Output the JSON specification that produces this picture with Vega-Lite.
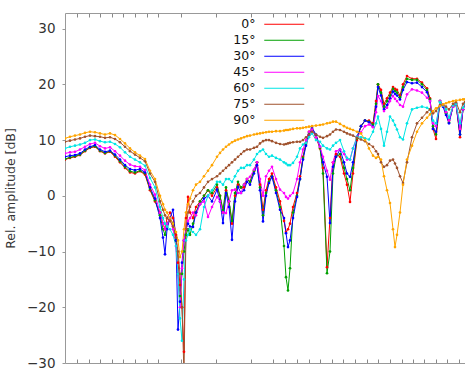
{
"$schema": "https://vega.github.io/schema/vega-lite/v6.json",
"width": 400, "height": 350,
"autosize": {"type": "none"},
"padding": {"left": 65, "top": 13, "right": 0, "bottom": 7},
"config": {"view": {"stroke": null}, "font": "DejaVu Sans"},
"data": {"values": [
{"s":"0°","x":0,"y":6.5},{"s":"0°","x":5,"y":6.8},{"s":"0°","x":10,"y":7.0},{"s":"0°","x":15,"y":7.3},{"s":"0°","x":20,"y":8.0},{"s":"0°","x":25,"y":8.6},{"s":"0°","x":30,"y":8.8},{"s":"0°","x":35,"y":8.0},{"s":"0°","x":40,"y":7.6},{"s":"0°","x":45,"y":7.9},{"s":"0°","x":50,"y":7.0},{"s":"0°","x":55,"y":6.0},{"s":"0°","x":60,"y":5.0},{"s":"0°","x":65,"y":4.2},{"s":"0°","x":70,"y":4.0},{"s":"0°","x":75,"y":4.4},{"s":"0°","x":80,"y":3.8},{"s":"0°","x":85,"y":1.0},{"s":"0°","x":90,"y":-1.0},
{"s":"0°","x":95,"y":-3},{"s":"0°","x":98,"y":-5},{"s":"0°","x":100,"y":-6},{"s":"0°","x":102,"y":-4},{"s":"0°","x":105,"y":-3},{"s":"0°","x":108,"y":-4},{"s":"0°","x":111,"y":-7},{"s":"0°","x":113,"y":-12},{"s":"0°","x":115,"y":-16},{"s":"0°","x":117,"y":-20},{"s":"0°","x":119,"y":-28},{"s":"0°","x":121,"y":-4},{"s":"0°","x":123,"y":-0.2},{"s":"0°","x":125,"y":-3},{"s":"0°","x":128,"y":-4},{"s":"0°","x":131,"y":-2},{"s":"0°","x":135,"y":-1},
{"s":"0°","x":139,"y":0},{"s":"0°","x":143,"y":1},{"s":"0°","x":147,"y":0},{"s":"0°","x":152,"y":1.5},{"s":"0°","x":155,"y":0},{"s":"0°","x":158,"y":-3},{"s":"0°","x":161,"y":1},{"s":"0°","x":164,"y":-1},{"s":"0°","x":167,"y":-5},{"s":"0°","x":170,"y":0},{"s":"0°","x":173,"y":2},{"s":"0°","x":176,"y":1.5},{"s":"0°","x":179,"y":1.5},{"s":"0°","x":182,"y":3},{"s":"0°","x":185,"y":2.5},
{"s":"0°","x":189,"y":4.5},{"s":"0°","x":192,"y":6},{"s":"0°","x":195,"y":2},{"s":"0°","x":198,"y":-2.5},{"s":"0°","x":201,"y":1},{"s":"0°","x":204,"y":3},{"s":"0°","x":207,"y":4},{"s":"0°","x":211,"y":1.5},{"s":"0°","x":215,"y":-1},{"s":"0°","x":219,"y":-4.5},{"s":"0°","x":221,"y":-6.5},{"s":"0°","x":223,"y":-6},{"s":"0°","x":225,"y":-5},{"s":"0°","x":228,"y":-2},{"s":"0°","x":232,"y":0.5},{"s":"0°","x":235,"y":3.5},{"s":"0°","x":238,"y":7},{"s":"0°","x":241,"y":9.5},{"s":"0°","x":244,"y":11.5},{"s":"0°","x":247,"y":12},{"s":"0°","x":251,"y":10.5},{"s":"0°","x":255,"y":8.5},{"s":"0°","x":258,"y":5},{"s":"0°","x":262,"y":-12.8},{"s":"0°","x":265,"y":-4},{"s":"0°","x":268,"y":6},{"s":"0°","x":271,"y":7.5},{"s":"0°","x":275,"y":7},{"s":"0°","x":279,"y":4},{"s":"0°","x":282,"y":2},{"s":"0°","x":285,"y":-1.1},{"s":"0°","x":288,"y":4},{"s":"0°","x":292,"y":10},{"s":"0°","x":296,"y":12.5},{"s":"0°","x":300,"y":13.5},{"s":"0°","x":304,"y":13.5},{"s":"0°","x":308,"y":13},{"s":"0°","x":311,"y":17},{"s":"0°","x":313,"y":20},{"s":"0°","x":316,"y":19},{"s":"0°","x":319,"y":16.5},
{"s":"0°","x":322,"y":17.5},{"s":"0°","x":325,"y":18.5},{"s":"0°","x":328,"y":19.5},{"s":"0°","x":330,"y":19.2},{"s":"0°","x":332,"y":19},{"s":"0°","x":335,"y":18},{"s":"0°","x":338,"y":20},{"s":"0°","x":342,"y":21.5},{"s":"0°","x":347,"y":21},{"s":"0°","x":352,"y":21},{"s":"0°","x":357,"y":20.3},{"s":"0°","x":362,"y":19.3},{"s":"0°","x":365,"y":17.5},{"s":"0°","x":368,"y":12},{"s":"0°","x":371,"y":10.2},{"s":"0°","x":375,"y":17},{"s":"0°","x":378,"y":16.3},{"s":"0°","x":381,"y":15},{"s":"0°","x":384,"y":13.5},{"s":"0°","x":388,"y":16},{"s":"0°","x":391,"y":16.5},{"s":"0°","x":395,"y":10.5},{"s":"0°","x":398,"y":15.5},{"s":"0°","x":400,"y":16.5},
{"s":"15°","x":0,"y":6.6},{"s":"15°","x":5,"y":6.9},{"s":"15°","x":10,"y":7.1},{"s":"15°","x":15,"y":7.4},{"s":"15°","x":20,"y":8.1},{"s":"15°","x":25,"y":8.7},{"s":"15°","x":30,"y":8.9},{"s":"15°","x":35,"y":8.1},{"s":"15°","x":40,"y":7.7},{"s":"15°","x":45,"y":8.0},{"s":"15°","x":50,"y":7.2},{"s":"15°","x":55,"y":6.2},{"s":"15°","x":60,"y":5.2},{"s":"15°","x":65,"y":4.4},{"s":"15°","x":70,"y":4.2},{"s":"15°","x":75,"y":4.5},{"s":"15°","x":80,"y":4.0},{"s":"15°","x":85,"y":1.2},{"s":"15°","x":90,"y":-0.8},
{"s":"15°","x":95,"y":-3.5},{"s":"15°","x":98,"y":-6},{"s":"15°","x":100,"y":-7},{"s":"15°","x":102,"y":-5},{"s":"15°","x":105,"y":-4},{"s":"15°","x":108,"y":-5},{"s":"15°","x":111,"y":-8},{"s":"15°","x":113,"y":-14},{"s":"15°","x":115,"y":-18},{"s":"15°","x":117,"y":-14},{"s":"15°","x":119,"y":-10},{"s":"15°","x":121,"y":-7},{"s":"15°","x":123,"y":-6},{"s":"15°","x":125,"y":-7},{"s":"15°","x":128,"y":-5},{"s":"15°","x":131,"y":-3},{"s":"15°","x":135,"y":-1},
{"s":"15°","x":139,"y":0},{"s":"15°","x":143,"y":1},{"s":"15°","x":147,"y":0.5},{"s":"15°","x":152,"y":2},{"s":"15°","x":155,"y":0},{"s":"15°","x":158,"y":-2.5},{"s":"15°","x":161,"y":1.5},{"s":"15°","x":164,"y":-1},{"s":"15°","x":167,"y":-4.5},{"s":"15°","x":170,"y":0.5},{"s":"15°","x":173,"y":2.5},{"s":"15°","x":176,"y":1.5},{"s":"15°","x":179,"y":2},{"s":"15°","x":182,"y":3},{"s":"15°","x":185,"y":2.5},
{"s":"15°","x":189,"y":4.5},{"s":"15°","x":192,"y":6},{"s":"15°","x":195,"y":1.5},{"s":"15°","x":198,"y":-3.5},{"s":"15°","x":201,"y":0.5},{"s":"15°","x":204,"y":2.5},{"s":"15°","x":207,"y":3.5},{"s":"15°","x":211,"y":1},{"s":"15°","x":215,"y":-2},{"s":"15°","x":219,"y":-9},{"s":"15°","x":221,"y":-14.6},{"s":"15°","x":223,"y":-17},{"s":"15°","x":225,"y":-13},{"s":"15°","x":228,"y":-3},{"s":"15°","x":232,"y":0},{"s":"15°","x":235,"y":3},{"s":"15°","x":238,"y":6.8},{"s":"15°","x":241,"y":9.3},{"s":"15°","x":244,"y":11.3},{"s":"15°","x":247,"y":12},{"s":"15°","x":251,"y":10.8},{"s":"15°","x":255,"y":8.6},{"s":"15°","x":258,"y":4},{"s":"15°","x":262,"y":-13.9},{"s":"15°","x":265,"y":-10},{"s":"15°","x":268,"y":4},{"s":"15°","x":271,"y":7},{"s":"15°","x":275,"y":7.5},{"s":"15°","x":279,"y":5},{"s":"15°","x":282,"y":3},{"s":"15°","x":285,"y":1},{"s":"15°","x":288,"y":5},{"s":"15°","x":292,"y":10.3},{"s":"15°","x":296,"y":12.5},{"s":"15°","x":300,"y":13.5},{"s":"15°","x":304,"y":13.3},{"s":"15°","x":308,"y":12.8},{"s":"15°","x":311,"y":16.5},{"s":"15°","x":313,"y":20},{"s":"15°","x":316,"y":18.5},{"s":"15°","x":319,"y":16},
{"s":"15°","x":322,"y":17},{"s":"15°","x":325,"y":18},{"s":"15°","x":328,"y":19.2},{"s":"15°","x":330,"y":18.8},{"s":"15°","x":332,"y":18.5},{"s":"15°","x":335,"y":17.7},{"s":"15°","x":338,"y":19.5},{"s":"15°","x":342,"y":21},{"s":"15°","x":347,"y":20.8},{"s":"15°","x":352,"y":20.8},{"s":"15°","x":357,"y":20},{"s":"15°","x":362,"y":19},{"s":"15°","x":365,"y":17.3},{"s":"15°","x":368,"y":12.5},{"s":"15°","x":371,"y":11},{"s":"15°","x":375,"y":17},{"s":"15°","x":378,"y":16.2},{"s":"15°","x":381,"y":14.8},{"s":"15°","x":384,"y":13.2},{"s":"15°","x":388,"y":16},{"s":"15°","x":391,"y":16.5},{"s":"15°","x":395,"y":11},{"s":"15°","x":398,"y":15.5},{"s":"15°","x":400,"y":16.5},
{"s":"30°","x":0,"y":7.0},{"s":"30°","x":5,"y":7.2},{"s":"30°","x":10,"y":7.3},{"s":"30°","x":15,"y":7.6},{"s":"30°","x":20,"y":8.3},{"s":"30°","x":25,"y":8.8},{"s":"30°","x":30,"y":9.1},{"s":"30°","x":35,"y":8.3},{"s":"30°","x":40,"y":7.9},{"s":"30°","x":45,"y":8.1},{"s":"30°","x":50,"y":7.4},{"s":"30°","x":55,"y":6.5},{"s":"30°","x":60,"y":5.5},{"s":"30°","x":65,"y":4.8},{"s":"30°","x":70,"y":4.6},{"s":"30°","x":75,"y":4.8},{"s":"30°","x":80,"y":4.2},{"s":"30°","x":85,"y":1.5},{"s":"30°","x":90,"y":-0.5},
{"s":"30°","x":95,"y":-4},{"s":"30°","x":98,"y":-7.5},{"s":"30°","x":100,"y":-10.5},{"s":"30°","x":102,"y":-6},{"s":"30°","x":105,"y":-4},{"s":"30°","x":108,"y":-2.5},{"s":"30°","x":111,"y":-8},{"s":"30°","x":113,"y":-24},{"s":"30°","x":115,"y":-19},{"s":"30°","x":117,"y":-12},{"s":"30°","x":119,"y":-8},{"s":"30°","x":121,"y":-6},{"s":"30°","x":123,"y":-5},{"s":"30°","x":125,"y":-5.5},{"s":"30°","x":128,"y":-5.6},{"s":"30°","x":131,"y":-3},{"s":"30°","x":135,"y":-1.5},
{"s":"30°","x":139,"y":-0.5},{"s":"30°","x":143,"y":0},{"s":"30°","x":147,"y":-1},{"s":"30°","x":152,"y":1.1},{"s":"30°","x":155,"y":-1},{"s":"30°","x":158,"y":-4.9},{"s":"30°","x":161,"y":0.5},{"s":"30°","x":164,"y":-2},{"s":"30°","x":167,"y":-7.9},{"s":"30°","x":170,"y":-1},{"s":"30°","x":173,"y":1.6},{"s":"30°","x":176,"y":0.5},{"s":"30°","x":179,"y":1},{"s":"30°","x":182,"y":2.5},{"s":"30°","x":185,"y":2},
{"s":"30°","x":189,"y":4},{"s":"30°","x":192,"y":5.5},{"s":"30°","x":195,"y":1},{"s":"30°","x":198,"y":-4.6},{"s":"30°","x":201,"y":0},{"s":"30°","x":204,"y":2.3},{"s":"30°","x":207,"y":3.4},{"s":"30°","x":211,"y":0.5},{"s":"30°","x":215,"y":-2.5},{"s":"30°","x":219,"y":-4},{"s":"30°","x":221,"y":-6.7},{"s":"30°","x":223,"y":-9.2},{"s":"30°","x":225,"y":-8},{"s":"30°","x":228,"y":-4},{"s":"30°","x":232,"y":-0.2},{"s":"30°","x":235,"y":3},{"s":"30°","x":238,"y":6.5},{"s":"30°","x":241,"y":9},{"s":"30°","x":244,"y":11},{"s":"30°","x":247,"y":12.2},{"s":"30°","x":251,"y":11},{"s":"30°","x":255,"y":8.8},{"s":"30°","x":258,"y":6},{"s":"30°","x":262,"y":3.4},{"s":"30°","x":265,"y":-4.9},{"s":"30°","x":268,"y":5.2},{"s":"30°","x":271,"y":7},{"s":"30°","x":275,"y":8.3},{"s":"30°","x":279,"y":6},{"s":"30°","x":282,"y":4},{"s":"30°","x":285,"y":3.4},{"s":"30°","x":288,"y":6},{"s":"30°","x":292,"y":10.6},{"s":"30°","x":296,"y":12.5},{"s":"30°","x":300,"y":13.5},{"s":"30°","x":304,"y":13.2},{"s":"30°","x":308,"y":12.4},{"s":"30°","x":311,"y":16},{"s":"30°","x":313,"y":19.5},{"s":"30°","x":316,"y":18},{"s":"30°","x":319,"y":15.5},
{"s":"30°","x":322,"y":16.3},{"s":"30°","x":325,"y":17.5},{"s":"30°","x":328,"y":18.7},{"s":"30°","x":330,"y":18.3},{"s":"30°","x":332,"y":18},{"s":"30°","x":335,"y":17.3},{"s":"30°","x":338,"y":19},{"s":"30°","x":342,"y":20.4},{"s":"30°","x":347,"y":20.2},{"s":"30°","x":352,"y":20.3},{"s":"30°","x":357,"y":19.5},{"s":"30°","x":362,"y":18.6},{"s":"30°","x":365,"y":17},{"s":"30°","x":368,"y":12},{"s":"30°","x":371,"y":11.5},{"s":"30°","x":375,"y":17},{"s":"30°","x":378,"y":16},{"s":"30°","x":381,"y":14.5},{"s":"30°","x":384,"y":13},{"s":"30°","x":388,"y":16},{"s":"30°","x":391,"y":16.5},{"s":"30°","x":395,"y":11},{"s":"30°","x":398,"y":15.5},{"s":"30°","x":400,"y":16.5},
{"s":"45°","x":0,"y":7.6},{"s":"45°","x":5,"y":7.8},{"s":"45°","x":10,"y":7.9},{"s":"45°","x":15,"y":8.3},{"s":"45°","x":20,"y":8.8},{"s":"45°","x":25,"y":9.3},{"s":"45°","x":30,"y":9.5},{"s":"45°","x":35,"y":8.9},{"s":"45°","x":40,"y":8.5},{"s":"45°","x":45,"y":8.7},{"s":"45°","x":50,"y":8.0},{"s":"45°","x":55,"y":7.2},{"s":"45°","x":60,"y":6.3},{"s":"45°","x":65,"y":5.6},{"s":"45°","x":70,"y":5.3},{"s":"45°","x":75,"y":5.2},{"s":"45°","x":80,"y":4.6},{"s":"45°","x":85,"y":2.0},{"s":"45°","x":90,"y":0.2},
{"s":"45°","x":95,"y":-3},{"s":"45°","x":98,"y":-5},{"s":"45°","x":100,"y":-6},{"s":"45°","x":102,"y":-5},{"s":"45°","x":105,"y":-4},{"s":"45°","x":108,"y":-6},{"s":"45°","x":111,"y":-9},{"s":"45°","x":113,"y":-14},{"s":"45°","x":115,"y":-20},{"s":"45°","x":117,"y":-13},{"s":"45°","x":119,"y":-8},{"s":"45°","x":121,"y":-6},{"s":"45°","x":123,"y":-4.5},{"s":"45°","x":125,"y":-4},{"s":"45°","x":128,"y":-3},{"s":"45°","x":131,"y":-3.5},{"s":"45°","x":135,"y":-1.5},
{"s":"45°","x":139,"y":-1},{"s":"45°","x":143,"y":-3.8},{"s":"45°","x":147,"y":-2},{"s":"45°","x":152,"y":-0.2},{"s":"45°","x":155,"y":-1},{"s":"45°","x":158,"y":-3},{"s":"45°","x":161,"y":-3.1},{"s":"45°","x":164,"y":-1},{"s":"45°","x":167,"y":1},{"s":"45°","x":170,"y":1.1},{"s":"45°","x":173,"y":0.5},{"s":"45°","x":176,"y":0.5},{"s":"45°","x":179,"y":2},{"s":"45°","x":182,"y":3},{"s":"45°","x":185,"y":3.4},
{"s":"45°","x":189,"y":4.7},{"s":"45°","x":192,"y":6},{"s":"45°","x":195,"y":3},{"s":"45°","x":198,"y":0},{"s":"45°","x":201,"y":3.5},{"s":"45°","x":204,"y":4.5},{"s":"45°","x":207,"y":5.2},{"s":"45°","x":211,"y":3},{"s":"45°","x":215,"y":1.1},{"s":"45°","x":219,"y":0.5},{"s":"45°","x":221,"y":-0.2},{"s":"45°","x":223,"y":-0.5},{"s":"45°","x":225,"y":0},{"s":"45°","x":228,"y":0.5},{"s":"45°","x":232,"y":3},{"s":"45°","x":235,"y":6},{"s":"45°","x":238,"y":8.3},{"s":"45°","x":241,"y":10},{"s":"45°","x":244,"y":11.5},{"s":"45°","x":247,"y":11.9},{"s":"45°","x":251,"y":10.5},{"s":"45°","x":255,"y":8.8},{"s":"45°","x":258,"y":7},{"s":"45°","x":262,"y":4.5},{"s":"45°","x":265,"y":2.9},{"s":"45°","x":268,"y":6},{"s":"45°","x":271,"y":8},{"s":"45°","x":275,"y":8.3},{"s":"45°","x":279,"y":7.5},{"s":"45°","x":282,"y":6.5},{"s":"45°","x":285,"y":6.5},{"s":"45°","x":288,"y":8.5},{"s":"45°","x":292,"y":10.6},{"s":"45°","x":296,"y":11.4},{"s":"45°","x":300,"y":12.5},{"s":"45°","x":304,"y":12.8},{"s":"45°","x":308,"y":12.3},{"s":"45°","x":311,"y":15},{"s":"45°","x":313,"y":17.9},{"s":"45°","x":316,"y":17},{"s":"45°","x":319,"y":15.2},
{"s":"45°","x":322,"y":15.8},{"s":"45°","x":325,"y":17},{"s":"45°","x":328,"y":17.9},{"s":"45°","x":330,"y":17.4},{"s":"45°","x":332,"y":17},{"s":"45°","x":335,"y":16.3},{"s":"45°","x":338,"y":16},{"s":"45°","x":342,"y":18.2},{"s":"45°","x":347,"y":19.1},{"s":"45°","x":352,"y":18.9},{"s":"45°","x":357,"y":18.5},{"s":"45°","x":362,"y":17.6},{"s":"45°","x":365,"y":17},{"s":"45°","x":368,"y":13},{"s":"45°","x":371,"y":12.5},{"s":"45°","x":375,"y":17},{"s":"45°","x":378,"y":16.2},{"s":"45°","x":381,"y":15},{"s":"45°","x":384,"y":13.5},{"s":"45°","x":388,"y":16},{"s":"45°","x":391,"y":16.5},{"s":"45°","x":395,"y":12},{"s":"45°","x":398,"y":15.5},{"s":"45°","x":400,"y":16.5},
{"s":"60°","x":0,"y":8.5},{"s":"60°","x":5,"y":8.8},{"s":"60°","x":10,"y":9.0},{"s":"60°","x":15,"y":9.2},{"s":"60°","x":20,"y":9.5},{"s":"60°","x":25,"y":10.0},{"s":"60°","x":30,"y":10.1},{"s":"60°","x":35,"y":9.8},{"s":"60°","x":40,"y":9.6},{"s":"60°","x":45,"y":9.7},{"s":"60°","x":50,"y":9.3},{"s":"60°","x":55,"y":8.7},{"s":"60°","x":60,"y":7.8},{"s":"60°","x":65,"y":7.0},{"s":"60°","x":70,"y":6.5},{"s":"60°","x":75,"y":6.0},{"s":"60°","x":80,"y":5.4},{"s":"60°","x":85,"y":3.2},{"s":"60°","x":90,"y":1.5},
{"s":"60°","x":95,"y":-2},{"s":"60°","x":98,"y":-4},{"s":"60°","x":100,"y":-5},{"s":"60°","x":102,"y":-5.5},{"s":"60°","x":105,"y":-6},{"s":"60°","x":108,"y":-7},{"s":"60°","x":111,"y":-9},{"s":"60°","x":113,"y":-14},{"s":"60°","x":115,"y":-22},{"s":"60°","x":117,"y":-26},{"s":"60°","x":119,"y":-15},{"s":"60°","x":121,"y":-8},{"s":"60°","x":123,"y":-7},{"s":"60°","x":125,"y":-6},{"s":"60°","x":128,"y":-6.5},{"s":"60°","x":131,"y":-7},{"s":"60°","x":135,"y":-6},
{"s":"60°","x":139,"y":-2},{"s":"60°","x":143,"y":0},{"s":"60°","x":147,"y":1},{"s":"60°","x":152,"y":2.5},{"s":"60°","x":155,"y":2.5},{"s":"60°","x":158,"y":2},{"s":"60°","x":161,"y":3},{"s":"60°","x":164,"y":3},{"s":"60°","x":167,"y":2.5},{"s":"60°","x":170,"y":3.5},{"s":"60°","x":173,"y":4.5},{"s":"60°","x":176,"y":5},{"s":"60°","x":179,"y":5},{"s":"60°","x":182,"y":5.5},{"s":"60°","x":185,"y":5.5},
{"s":"60°","x":189,"y":6.5},{"s":"60°","x":192,"y":7.5},{"s":"60°","x":195,"y":8},{"s":"60°","x":198,"y":8.3},{"s":"60°","x":201,"y":7.5},{"s":"60°","x":204,"y":7},{"s":"60°","x":207,"y":7.2},{"s":"60°","x":211,"y":6.8},{"s":"60°","x":215,"y":6.5},{"s":"60°","x":219,"y":6},{"s":"60°","x":221,"y":5.8},{"s":"60°","x":223,"y":5.5},{"s":"60°","x":225,"y":5.5},{"s":"60°","x":228,"y":5.9},{"s":"60°","x":232,"y":7},{"s":"60°","x":235,"y":8.5},{"s":"60°","x":238,"y":9.2},{"s":"60°","x":241,"y":9.5},{"s":"60°","x":244,"y":10.5},{"s":"60°","x":247,"y":11.2},{"s":"60°","x":251,"y":10},{"s":"60°","x":255,"y":9.7},{"s":"60°","x":258,"y":9},{"s":"60°","x":262,"y":8.5},{"s":"60°","x":265,"y":8.3},{"s":"60°","x":268,"y":9},{"s":"60°","x":271,"y":9.5},{"s":"60°","x":275,"y":10},{"s":"60°","x":279,"y":8},{"s":"60°","x":282,"y":6.8},{"s":"60°","x":285,"y":6.5},{"s":"60°","x":288,"y":8.5},{"s":"60°","x":292,"y":10.6},{"s":"60°","x":296,"y":10.5},{"s":"60°","x":300,"y":10.3},{"s":"60°","x":304,"y":10.1},{"s":"60°","x":308,"y":11.5},{"s":"60°","x":311,"y":13},{"s":"60°","x":313,"y":14.2},{"s":"60°","x":316,"y":12},{"s":"60°","x":319,"y":9},
{"s":"60°","x":322,"y":11.5},{"s":"60°","x":325,"y":14.2},{"s":"60°","x":328,"y":13.5},{"s":"60°","x":330,"y":12.7},{"s":"60°","x":332,"y":11.9},{"s":"60°","x":335,"y":10.5},{"s":"60°","x":338,"y":10.1},{"s":"60°","x":342,"y":13},{"s":"60°","x":347,"y":15.5},{"s":"60°","x":352,"y":15.8},{"s":"60°","x":357,"y":16},{"s":"60°","x":362,"y":15.8},{"s":"60°","x":365,"y":15.5},{"s":"60°","x":368,"y":13.5},{"s":"60°","x":371,"y":13},{"s":"60°","x":375,"y":16.8},{"s":"60°","x":378,"y":16.2},{"s":"60°","x":381,"y":15.5},{"s":"60°","x":384,"y":14},{"s":"60°","x":388,"y":16.2},{"s":"60°","x":391,"y":16.5},{"s":"60°","x":395,"y":13},{"s":"60°","x":398,"y":15.8},{"s":"60°","x":400,"y":16.5},
{"s":"75°","x":0,"y":9.7},{"s":"75°","x":5,"y":9.9},{"s":"75°","x":10,"y":10.1},{"s":"75°","x":15,"y":10.3},{"s":"75°","x":20,"y":10.6},{"s":"75°","x":25,"y":10.8},{"s":"75°","x":30,"y":10.7},{"s":"75°","x":35,"y":10.6},{"s":"75°","x":40,"y":10.4},{"s":"75°","x":45,"y":10.5},{"s":"75°","x":50,"y":10.2},{"s":"75°","x":55,"y":9.6},{"s":"75°","x":60,"y":8.8},{"s":"75°","x":65,"y":8.0},{"s":"75°","x":70,"y":7.4},{"s":"75°","x":75,"y":6.8},{"s":"75°","x":80,"y":6.2},{"s":"75°","x":85,"y":4.0},{"s":"75°","x":90,"y":2.5},
{"s":"75°","x":95,"y":-1},{"s":"75°","x":98,"y":-2.5},{"s":"75°","x":100,"y":-3.5},{"s":"75°","x":102,"y":-4},{"s":"75°","x":105,"y":-4.5},{"s":"75°","x":108,"y":-5.5},{"s":"75°","x":111,"y":-7.5},{"s":"75°","x":113,"y":-10},{"s":"75°","x":115,"y":-14},{"s":"75°","x":117,"y":-20},{"s":"75°","x":119,"y":-32},{"s":"75°","x":121,"y":-6},{"s":"75°","x":123,"y":-3},{"s":"75°","x":125,"y":-2},{"s":"75°","x":128,"y":-1},{"s":"75°","x":131,"y":0},{"s":"75°","x":135,"y":0.5},
{"s":"75°","x":139,"y":1.5},{"s":"75°","x":143,"y":2.5},{"s":"75°","x":147,"y":3},{"s":"75°","x":152,"y":3.5},{"s":"75°","x":155,"y":4},{"s":"75°","x":158,"y":4.5},{"s":"75°","x":161,"y":5},{"s":"75°","x":164,"y":5.5},{"s":"75°","x":167,"y":6},{"s":"75°","x":170,"y":6.5},{"s":"75°","x":173,"y":7},{"s":"75°","x":176,"y":7.5},{"s":"75°","x":179,"y":8},{"s":"75°","x":182,"y":8.3},{"s":"75°","x":185,"y":8.3},
{"s":"75°","x":189,"y":8.6},{"s":"75°","x":192,"y":8.8},{"s":"75°","x":195,"y":9.4},{"s":"75°","x":198,"y":9.8},{"s":"75°","x":201,"y":10},{"s":"75°","x":204,"y":10},{"s":"75°","x":207,"y":9.8},{"s":"75°","x":211,"y":9.5},{"s":"75°","x":215,"y":9.3},{"s":"75°","x":219,"y":9.2},{"s":"75°","x":221,"y":9.3},{"s":"75°","x":223,"y":9.4},{"s":"75°","x":225,"y":9.5},{"s":"75°","x":228,"y":9.6},{"s":"75°","x":232,"y":9.7},{"s":"75°","x":235,"y":9.7},{"s":"75°","x":238,"y":10},{"s":"75°","x":241,"y":10.5},{"s":"75°","x":244,"y":11},{"s":"75°","x":247,"y":11.5},{"s":"75°","x":251,"y":11},{"s":"75°","x":255,"y":10.6},{"s":"75°","x":258,"y":10.4},{"s":"75°","x":262,"y":10.7},{"s":"75°","x":265,"y":11},{"s":"75°","x":268,"y":11.5},{"s":"75°","x":271,"y":11.9},{"s":"75°","x":275,"y":11.8},{"s":"75°","x":279,"y":11.5},{"s":"75°","x":282,"y":11.2},{"s":"75°","x":285,"y":11},{"s":"75°","x":288,"y":10.8},{"s":"75°","x":292,"y":10.4},{"s":"75°","x":296,"y":10.1},{"s":"75°","x":300,"y":9.8},{"s":"75°","x":304,"y":9.3},{"s":"75°","x":308,"y":8.8},{"s":"75°","x":311,"y":8},{"s":"75°","x":313,"y":7.5},{"s":"75°","x":316,"y":6},{"s":"75°","x":319,"y":5.2},
{"s":"75°","x":322,"y":5.5},{"s":"75°","x":325,"y":6.3},{"s":"75°","x":328,"y":6.5},{"s":"75°","x":330,"y":5.8},{"s":"75°","x":332,"y":5},{"s":"75°","x":335,"y":3.5},{"s":"75°","x":338,"y":2.3},{"s":"75°","x":342,"y":6},{"s":"75°","x":347,"y":10.5},{"s":"75°","x":352,"y":13},{"s":"75°","x":357,"y":14},{"s":"75°","x":362,"y":15},{"s":"75°","x":365,"y":15.5},{"s":"75°","x":368,"y":14.8},{"s":"75°","x":371,"y":15.2},{"s":"75°","x":375,"y":16.3},{"s":"75°","x":378,"y":16.3},{"s":"75°","x":381,"y":16},{"s":"75°","x":384,"y":15.5},{"s":"75°","x":388,"y":16.5},{"s":"75°","x":391,"y":16.8},{"s":"75°","x":395,"y":15},{"s":"75°","x":398,"y":16.5},{"s":"75°","x":400,"y":16.8},
{"s":"90°","x":0,"y":10.3},{"s":"90°","x":5,"y":10.6},{"s":"90°","x":10,"y":10.8},{"s":"90°","x":15,"y":11.0},{"s":"90°","x":20,"y":11.3},{"s":"90°","x":25,"y":11.5},{"s":"90°","x":30,"y":11.4},{"s":"90°","x":35,"y":11.2},{"s":"90°","x":40,"y":11.0},{"s":"90°","x":45,"y":11.2},{"s":"90°","x":50,"y":10.9},{"s":"90°","x":55,"y":10.2},{"s":"90°","x":60,"y":9.4},{"s":"90°","x":65,"y":8.5},{"s":"90°","x":70,"y":7.8},{"s":"90°","x":75,"y":7.2},{"s":"90°","x":80,"y":6.6},{"s":"90°","x":85,"y":4.5},{"s":"90°","x":90,"y":3.0},
{"s":"90°","x":95,"y":0},{"s":"90°","x":98,"y":-1.5},{"s":"90°","x":100,"y":-2.5},{"s":"90°","x":102,"y":-3},{"s":"90°","x":105,"y":-4},{"s":"90°","x":108,"y":-5},{"s":"90°","x":111,"y":-6.5},{"s":"90°","x":113,"y":-8},{"s":"90°","x":115,"y":-11},{"s":"90°","x":117,"y":-10},{"s":"90°","x":119,"y":-6},{"s":"90°","x":121,"y":-3},{"s":"90°","x":123,"y":-1.5},{"s":"90°","x":125,"y":-0.5},{"s":"90°","x":128,"y":1},{"s":"90°","x":131,"y":2},{"s":"90°","x":135,"y":2.5},
{"s":"90°","x":139,"y":3.5},{"s":"90°","x":143,"y":4.5},{"s":"90°","x":147,"y":5.5},{"s":"90°","x":152,"y":7},{"s":"90°","x":155,"y":7.7},{"s":"90°","x":158,"y":8.3},{"s":"90°","x":161,"y":8.8},{"s":"90°","x":164,"y":9.2},{"s":"90°","x":167,"y":9.6},{"s":"90°","x":170,"y":9.9},{"s":"90°","x":173,"y":10.1},{"s":"90°","x":176,"y":10.3},{"s":"90°","x":179,"y":10.5},{"s":"90°","x":182,"y":10.7},{"s":"90°","x":185,"y":10.8},
{"s":"90°","x":189,"y":11},{"s":"90°","x":192,"y":11.1},{"s":"90°","x":195,"y":11.2},{"s":"90°","x":198,"y":11.3},{"s":"90°","x":201,"y":11.4},{"s":"90°","x":204,"y":11.5},{"s":"90°","x":207,"y":11.5},{"s":"90°","x":211,"y":11.6},{"s":"90°","x":215,"y":11.6},{"s":"90°","x":219,"y":11.7},{"s":"90°","x":221,"y":11.8},{"s":"90°","x":223,"y":11.8},{"s":"90°","x":225,"y":11.9},{"s":"90°","x":228,"y":12},{"s":"90°","x":232,"y":12.1},{"s":"90°","x":235,"y":12.1},{"s":"90°","x":238,"y":12.2},{"s":"90°","x":241,"y":12.3},{"s":"90°","x":244,"y":12.4},{"s":"90°","x":247,"y":12.5},{"s":"90°","x":251,"y":12.6},{"s":"90°","x":255,"y":12.7},{"s":"90°","x":258,"y":12.8},{"s":"90°","x":262,"y":13},{"s":"90°","x":265,"y":13.1},{"s":"90°","x":268,"y":13.3},{"s":"90°","x":271,"y":13.3},{"s":"90°","x":275,"y":12.9},{"s":"90°","x":279,"y":12.5},{"s":"90°","x":282,"y":12.2},{"s":"90°","x":285,"y":12},{"s":"90°","x":288,"y":11.8},{"s":"90°","x":292,"y":11.5},{"s":"90°","x":296,"y":11.2},{"s":"90°","x":300,"y":10},{"s":"90°","x":304,"y":8.5},{"s":"90°","x":308,"y":7.2},{"s":"90°","x":311,"y":6.8},{"s":"90°","x":313,"y":7},{"s":"90°","x":316,"y":6.5},{"s":"90°","x":319,"y":3.5},
{"s":"90°","x":322,"y":1},{"s":"90°","x":325,"y":-1.3},{"s":"90°","x":328,"y":-6},{"s":"90°","x":330,"y":-9.2},{"s":"90°","x":332,"y":-7},{"s":"90°","x":335,"y":-3},{"s":"90°","x":338,"y":2},{"s":"90°","x":342,"y":6.5},{"s":"90°","x":347,"y":9},{"s":"90°","x":352,"y":11.5},{"s":"90°","x":357,"y":13},{"s":"90°","x":362,"y":14},{"s":"90°","x":365,"y":14.6},{"s":"90°","x":368,"y":15.2},{"s":"90°","x":371,"y":15.7},{"s":"90°","x":375,"y":16.1},{"s":"90°","x":378,"y":16.4},{"s":"90°","x":381,"y":16.6},{"s":"90°","x":384,"y":16.8},{"s":"90°","x":388,"y":17},{"s":"90°","x":391,"y":17.1},{"s":"90°","x":395,"y":17.2},{"s":"90°","x":398,"y":17.3},{"s":"90°","x":400,"y":17.3}
]},
"layer": [
{
"mark": {"type": "line", "strokeWidth": 1, "clip": true, "point": {"filled": true, "size": 7, "clip": true}},
"encoding": {
"x": {"field": "x", "type": "quantitative", "scale": {"domain": [0, 400], "nice": false, "zero": false},
 "axis": {"orient": "bottom", "values": [12,24,35,47,58,70,82,93,116,151,186,208,220,232,244,255,267,278,290,302,313,325,337,348,359,371,382,394], "labels": false, "title": null, "grid": false, "tickSize": -4, "domainColor": "#999", "tickColor": "#888"}},
"y": {"field": "y", "type": "quantitative", "scale": {"domain": [-30, 32.8], "nice": false, "zero": false},
 "axis": {"orient": "left", "values": [-30,-20,-10,0,10,20,30], "title": "Rel. amplitude [dB]", "grid": false, "tickSize": 3, "tickColor": "#999", "domainColor": "#999", "labelFontSize": 13.5, "labelFont": "DejaVu Sans", "labelColor": "#333", "labelPadding": 7, "titleFont": "DejaVu Sans", "titleFontSize": 12.5, "titleFontWeight": "normal", "titleColor": "#333", "titlePadding": 9}},
"color": {"field": "s", "type": "nominal",
 "scale": {"domain": ["0°","15°","30°","45°","60°","75°","90°"], "range": ["#ff0000","#00a000","#0000ff","#ff00ff","#00e5e5","#a0522d","#ffa500"]},
 "legend": {"orient": "none", "legendX": 213, "legendY": 5, "title": null, "symbolType": "M-5,0H5", "symbolSize": 64, "symbolStrokeWidth": 1, "labelAlign": "right", "labelOffset": -35, "labelFontSize": 12.5, "labelFont": "DejaVu Sans", "labelColor": "#111", "rowPadding": 3, "padding": 0}}
}
},
{
"data": {"values": [{"x": 0}]},
"mark": {"type": "rule", "opacity": 0},
"encoding": {
"x": {"field": "x", "type": "quantitative", "scale": {"domain": [0, 400], "nice": false, "zero": false},
 "axis": {"orient": "top", "values": [12,24,35,47,58,70,82,93,116,151,186,208,220,232,244,255,267,278,290,302,313,325,337,348,359,371,382,394], "labels": false, "title": null, "grid": false, "tickSize": -4, "domainColor": "#999", "tickColor": "#888"}}
}
}
],
"resolve": {"axis": {"x": "independent"}}
}
